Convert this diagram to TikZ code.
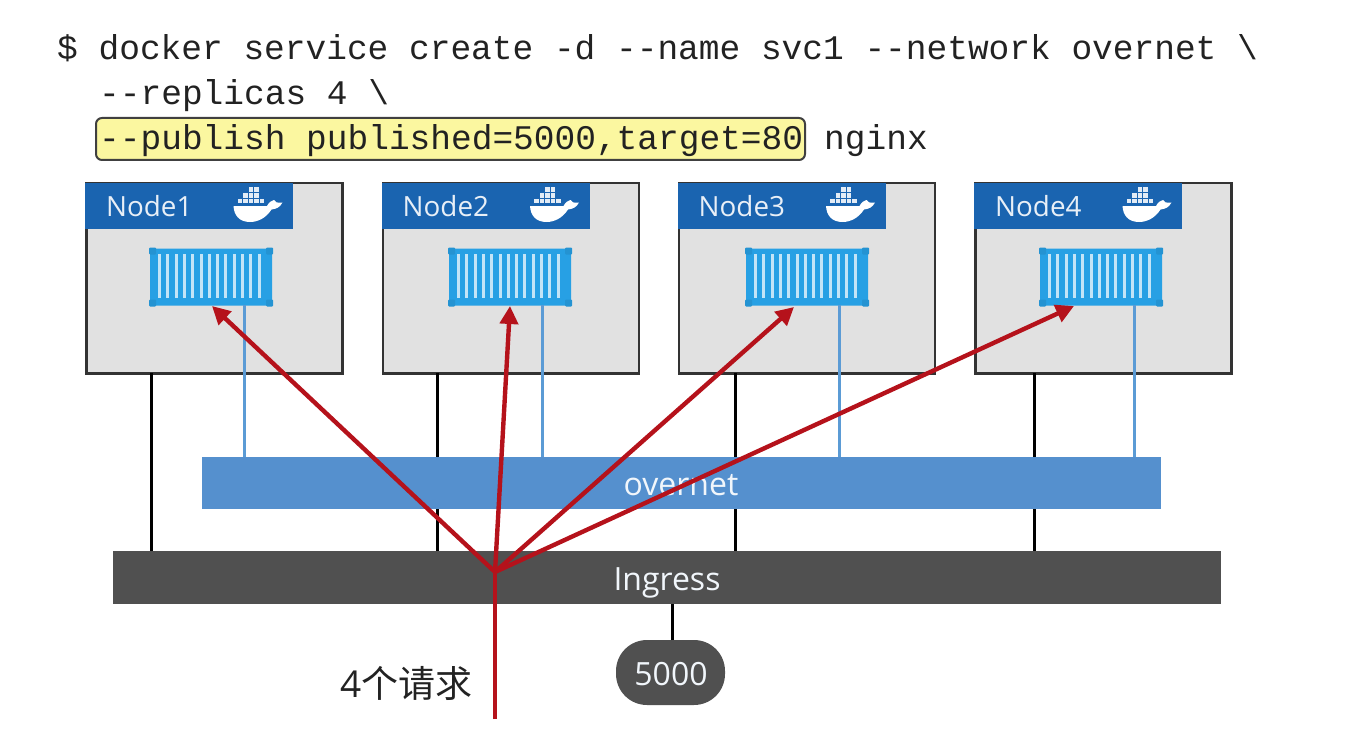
\documentclass[tikz,border=0pt]{standalone}
\usepackage{fontspec}
\setmainfont{Open Sans}
\newfontfamily\codefont{Liberation Mono}
\newfontfamily\cjkfont{Noto Sans CJK SC}
\usetikzlibrary{arrows.meta}
\definecolor{hdrblue}{HTML}{1A64B0}
\definecolor{boxgrey}{HTML}{E1E1E1}
\definecolor{cblue}{HTML}{27A0E4}
\definecolor{netblue}{HTML}{5590CE}
\definecolor{linkblue}{HTML}{5B9BD5}
\definecolor{ingrey}{HTML}{505050}
\definecolor{redline}{HTML}{B5121B}
\definecolor{hlyellow}{HTML}{FBF7A0}
\definecolor{ink}{HTML}{222222}
\tikzset{
  code/.style={font=\codefont\fontsize{34.5}{34.5}\selectfont,text=ink,anchor=base west,inner sep=0pt},
  nodebox/.style={draw=black!80,line width=2.5pt,fill=boxgrey,anchor=north west,minimum width=256pt,minimum height=190pt,inner sep=0pt},
  hdr/.style={fill=hdrblue,anchor=north west,minimum width=208pt,minimum height=46pt,inner sep=0pt,outer sep=0pt},
  hdrtext/.style={font=\fontsize{27.8}{27.8}\selectfont,text=white!90!hdrblue,anchor=base west,inner sep=0pt},
  box/.style={fill=cblue,rounded corners=1.5pt,anchor=north west,minimum width=122pt,minimum height=57pt,inner sep=0pt,outer sep=0pt},
  blink/.style={draw=linkblue,line width=3pt},
  klink/.style={draw=black,line width=3pt},
  req/.style={draw=redline,line width=4.4pt},
  reqarrow/.style={req,-{Triangle[length=18pt,width=18pt]}},
  bar/.style={anchor=north west,inner sep=0pt,outer sep=0pt},
  bartext/.style={font=\fontsize{32}{32}\selectfont,text=white!92!netblue,anchor=base,inner sep=0pt}
}
\begin{document}
\begin{tikzpicture}[x=1pt,y=-1pt]
\useasboundingbox (0,0) rectangle (1348,746);
% highlighted option
\node[draw=black!75,line width=2pt,fill=hlyellow,rounded corners=6pt,anchor=north west,minimum width=709pt,minimum height=42pt,inner sep=0pt] (hl) at (95,117) {};
\node[code] (l1) at (57,60) {\$ docker service create -d -{}-name svc1 -{}-network overnet \textbackslash};
\node[code] (l2) at (99,105) {-{}-replicas 4 \textbackslash};
\node[code] (l3) at (99,150) {-{}-publish published=5000,target=80};
\node[code] (l4) at (824,150) {nginx};
% hosts
\foreach \i/\x/\cx in {1/86/150,2/382.5/449,3/678.5/746,4/975/1040}{
  \node[nodebox] (n\i) at (\x-1,182) {};
  \node[hdr] (h\i) at (\x-1,183) {};
  \node[hdrtext] (t\i) at (\x+20,216) {Node\i};
  \node[box] (c\i) at (\cx,248.5) {};
  \foreach \k in {0,...,12}{
    \fill[white!72!cblue] (\cx+8+\k*8.3,253.5) rectangle +(3,44);
  }
  \foreach \cnx/\cny in {0/0,117/0,117/52,0/52}{
    \fill[cblue!92!black,rounded corners=1pt] (\cx-1+\cnx,247.5+\cny) rectangle +(7,7);
  }
  % whale
  \begin{scope}[shift={(\x-86,0)}]
    \fill[white] (233.5,206) -- (267,206) .. controls (269,202.5) and (271,200.5) .. (274,200)
      .. controls (275,202.5) and (277,203) .. (282.5,202.5)
      .. controls (280,207.5) and (276,209) .. (271.5,209.5)
      .. controls (266,218) and (258,222) .. (250,222)
      .. controls (239,222) and (234,215) .. (233.5,206) -- cycle;
    \foreach \bx/\by in {237.5/198.5,243/198.5,248.5/198.5,254/198.5,259.5/198.5,243/193,248.5/193,254/193,248.5/187.5,254/187.5}{
      \fill[white!88!hdrblue] (\bx,\by) rectangle +(4.6,4.6);
    }
  \end{scope}
}
% networks
\foreach \i/\x in {1/151,2/437,3/735,4/1034}{
  \coordinate (ku\i) at (\x,373);
  \coordinate (kd\i) at (\x,551);
  \draw[klink] (ku\i) -- (kd\i);
}
\foreach \i/\x in {1/244,2/542,3/839,4/1134}{
  \coordinate (bu\i) at (\x,305);
  \coordinate (bd\i) at (\x,457);
  \draw[blink] (bu\i) -- (bd\i);
}
\node[bar,fill=netblue,minimum width=959pt,minimum height=52pt] (overnet) at (202,457) {};
\node[bartext] (ot) at (681,495) {overnet};
\node[bar,fill=ingrey,minimum width=1108pt,minimum height=53pt] (ingress) at (113,551) {};
\node[bartext] (it) at (667,590) {Ingress};
\node[fill=ingrey,rounded corners=31pt,minimum width=109pt,minimum height=65pt,inner sep=0pt,outer sep=0pt] (port) at (670.5,672.5) {};
\node[bartext] (pt) at (671,685) {5000};
\draw[klink] ([xshift=1.5pt]port.north) -- ([xshift=1.5pt]port.north |- ingress.south);
% requests
\coordinate (apex) at (495,572);
\coordinate (src) at (495,719);
\coordinate (e1) at (212,306);
\coordinate (e2) at (510,306);
\coordinate (e3) at (794,307);
\coordinate (e4) at (1074,306);
\draw[req] (src) -- (apex);
\foreach \i in {1,...,4}{ \draw[reqarrow] (apex) -- (e\i); }
\node[anchor=base west,inner sep=0pt,text=ink,font=\fontsize{37}{37}\selectfont] (reqs) at (340,697) {4\cjkfont 个请求};
\end{tikzpicture}
\end{document}
